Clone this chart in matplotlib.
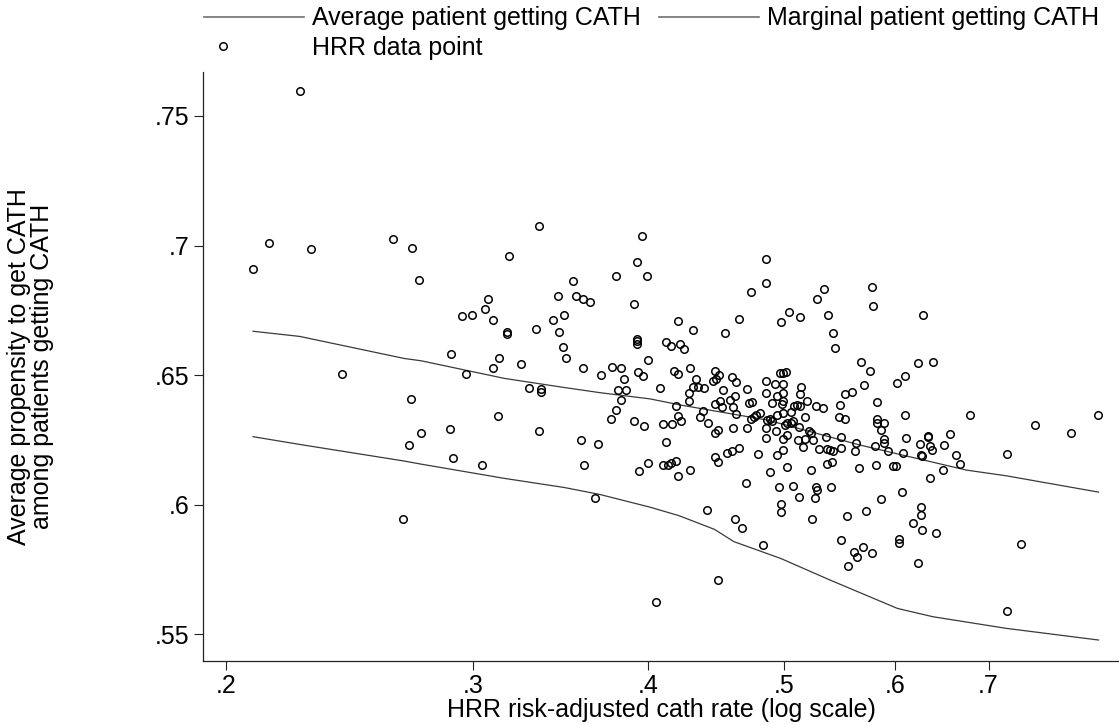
import matplotlib
matplotlib.use("Agg")
import matplotlib.pyplot as plt
from matplotlib.ticker import FixedLocator, FixedFormatter, NullLocator
from matplotlib.legend_handler import HandlerLine2D

plt.rcParams['font.family'] = ['Liberation Sans', 'DejaVu Sans']

# HRR risk-adjusted cath rate / average propensity
hrr_rate = [
    .2258, .2145, .2092, .2300, .2632, .2713, .2745, .3186, .3345, .3961,
    .3931, .3794, .3991, .3539, .3452, .3556, .3596, .3640, .3911, .3076,
    .2949, .2994, .3063, .3103, .3176, .3176, .3326, .3423, .3485, .3456,
    .3481, .3928, .3928, .3928, .2893, .3132, .3497,
    .3249, .3103, .2965, .2420, .3596, .3706, .3768, .3827, .3846, .3933,
    .3965, .4004, .3289, .3354, .3354, .3811, .3860, .3827, .3794, .3764,
    .3911, .3972, .2709, .3126, .2891, .2755, .2700, .2902, .3048, .3346,
    .3583, .3685, .3601, .3939, .4004, .3669, .2677,
    .4857, .4857, .4742, .4202, .4311, .4539, .4644, .4975, .5041, .5133,
    .5284, .5344, .5375, .5424, .5438, .5785, .5789, .6290, .6229, .6387,
    .5675, .5759, .5709, .6024, .6099, .5597, .5533, .5487, .5828, .5473,
    .5533, .6106, .5828, .5828, .5899, .5866, .5899, .5899, .5938, .5808,
    .5817, .5987, .6011, .6116, .6080, .6259, .6336, .6340, .6356, .6384,
    .6266, .6270, .6502, .6566, .6634, .6678, .6495, .6359, .6792, .7214,
    .7549, .8021, .8377, .6076, .5863, .6263, .6263, .6185, .6277, .6419,
    .6239, .7385, .7214, .6042, .6042, .5728, .5547, .5492, .5612, .5640,
    .5693, .5777, .5557, .5237, .5401, .5269, .5283, .5263, .5127, .5077,
    .4961, .4975, .4975, .4830, .4614, .4670, .4408, .4486, .4699, .4885,
    .5025, .5226, .5661, .4791, .4947, .4997, .4855, .4997, .4938, .5031,
    .5117, .5162, .5179, .5245, .5228, .5299, .5363, .5372, .5395, .5421,
    .5497, .5497, .5621, .5630, .5415, .5366, .5125, .5216, .5336, .5274,
    .5174, .5133, .5111, .5088, .5063, .5196, .5136, .5147, .5031, .5059,
    .5078, .5011, .4997, .4989, .4994, .4997, .4997, .4947, .4903, .4855,
    .4855, .4925, .4967, .4993, .5021, .4947, .4892, .4863, .4906, .4855,
    .4808, .4780, .4759, .4742, .4707, .4725, .4744, .4707, .4598, .4644,
    .4592, .4556, .4486, .4467, .4467, .4486, .4416, .4356, .4379, .4467,
    .4503, .4515, .4574, .4598, .4626, .4528, .4612, .4592, .4626, .4455,
    .4474, .4467, .4497, .4344, .4387, .4281, .4281, .4326, .4306, .4191,
    .4205, .4226, .4283, .4205, .4173, .4079, .4121, .4158, .4215, .4247,
    .4101, .4160, .4121, .4101, .4135, .4153, .4186, .4205, .4290, .4053,
]
hrr_propensity = [
    .7595, .7008, .6909, .6988, .7027, .6991, .6868, .6959, .7076, .7035,
    .6938, .6883, .6883, .6862, .6804, .6804, .6793, .6782, .6773, .6795,
    .6727, .6733, .6754, .6711, .6666, .6658, .6678, .6713, .6731, .6668,
    .6607, .6641, .6630, .6618, .6582, .6567, .6564,
    .6541, .6526, .6503, .6503, .6528, .6500, .6531, .6527, .6486, .6510,
    .6497, .6558, .6450, .6446, .6433, .6443, .6441, .6405, .6366, .6329,
    .6322, .6302, .6409, .6343, .6291, .6275, .6228, .6180, .6153, .6285,
    .6249, .6232, .6153, .6131, .6159, .6027, .5943,
    .6949, .6857, .6820, .6708, .6672, .6661, .6716, .6703, .6745, .6725,
    .6792, .6831, .6732, .6661, .6603, .6841, .6766, .6732, .6545, .6551,
    .6551, .6515, .6461, .6469, .6497, .6436, .6426, .6386, .6394, .6339,
    .6329, .6345, .6329, .6316, .6313, .6289, .6252, .6239, .6205, .6226,
    .6151, .6149, .6149, .6257, .6200, .6232, .6264, .6262, .6225, .6210,
    .6191, .6189, .6228, .6272, .6191, .6155, .6133, .6101, .6345, .6196,
    .6306, .6277, .6345, .6049, .6021, .5989, .5960, .5930, .5901, .5889,
    .5773, .5849, .5588, .5866, .5850, .5975, .5956, .5862, .5818, .5798,
    .5837, .5814, .5762, .5943, .6069, .6069, .6056, .6024, .6028, .6071,
    .6069, .6002, .5970, .5844, .5943, .5910, .5979, .5708, .6082, .6127,
    .6146, .6133, .6140, .6197, .6191, .6210, .6257, .6254, .6282, .6269,
    .6250, .6224, .6253, .6248, .6276, .6216, .6260, .6215, .6212, .6206,
    .6219, .6262, .6206, .6238, .6164, .6155, .6300, .6284, .6371, .6379,
    .6339, .6381, .6384, .6381, .6359, .6401, .6425, .6453, .6313, .6316,
    .6322, .6307, .6355, .6387, .6400, .6432, .6464, .6419, .6393, .6432,
    .6477, .6467, .6507, .6509, .6513, .6345, .6329, .6326, .6323, .6296,
    .6355, .6345, .6339, .6329, .6445, .6393, .6395, .6296, .6296, .6219,
    .6206, .6200, .6288, .6278, .6185, .6163, .6313, .6339, .6361, .6387,
    .6400, .6375, .6403, .6376, .6349, .6442, .6419, .6491, .6474, .6477,
    .6486, .6516, .6499, .6455, .6451, .6432, .6400, .6485, .6455, .6381,
    .6342, .6323, .6527, .6504, .6516, .6449, .6626, .6611, .6620, .6601,
    .6311, .6310, .6240, .6153, .6153, .6162, .6168, .6110, .6133, .5622,
]

# fitted curves
avg_x = [.2091, .2258, .2680, .2756, .3160, .3485, .3696, .4013, .4222,
         .4868, .5664, .6750, .7207, .8386]
avg_y = [.6669, .6649, .6564, .6555, .6487, .6452, .6432, .6408, .6384,
         .6326, .6230, .6133, .6111, .6048]
marg_x = [.2091, .2258, .2680, .2756, .3160, .3485, .3696, .4013, .4210,
          .4463, .4606, .4975, .5398, .6027, .6387, .7207, .8386]
marg_y = [.6262, .6232, .6168, .6156, .6101, .6066, .6039, .5990, .5957,
          .5904, .5857, .5792, .5708, .5599, .5567, .5522, .5477]

x_ticks = [.2, .3, .4, .5, .6, .7]
x_labels = ['.2', '.3', '.4', '.5', '.6', '.7']
y_ticks = [.55, .6, .65, .7, .75]
y_labels = ['.55', '.6', '.65', '.7', '.75']


class LeftMarker(HandlerLine2D):
    # Stata puts the symbol near the left of the key
    def create_artists(self, legend, orig_handle, xdescent, ydescent,
                       width, height, fontsize, trans):
        arts = super().create_artists(legend, orig_handle, xdescent, ydescent,
                                      width, height, fontsize, trans)
        for a in arts:
            a.set_xdata([0.19 * width - xdescent])
        return arts


fs = 18
fig = plt.figure(figsize=(11.19, 7.25), dpi=100)
ax = fig.add_axes([203 / 1119, 1 - 661 / 725, 916 / 1119, 589.3 / 725])

l1, = ax.plot(avg_x, avg_y, color='#3a3a3a', lw=0.9)
l2, = ax.plot(marg_x, marg_y, color='#3a3a3a', lw=0.9)
pts, = ax.plot(hrr_rate, hrr_propensity, 'o', mfc='none', mec='black',
               ms=5.4, mew=1.1, linestyle='none')

ax.set_xscale('log')
ax.set_xlim(0.1926, 0.8673)
ax.set_ylim(0.5396, 0.7671)
ax.xaxis.set_major_locator(FixedLocator(x_ticks))
ax.xaxis.set_major_formatter(FixedFormatter(x_labels))
ax.xaxis.set_minor_locator(NullLocator())
ax.yaxis.set_major_locator(FixedLocator(y_ticks))
ax.yaxis.set_major_formatter(FixedFormatter(y_labels))

for s in ['top', 'right']:
    ax.spines[s].set_visible(False)
for s in ['left', 'bottom']:
    ax.spines[s].set_linewidth(0.9)
    ax.spines[s].set_color('#222222')
ax.tick_params(length=6.5, width=0.8, color='#222222', labelsize=fs, pad=3)

ax.set_xlabel('HRR risk-adjusted cath rate (log scale)', fontsize=fs, labelpad=0)
ax.set_ylabel('Average propensity to get CATH\namong patients getting CATH',
              fontsize=fs, linespacing=0.95)
ax.yaxis.set_label_coords(-0.163, 0.5)

leg = fig.legend([l1, pts, l2],
                 ['Average patient getting CATH', 'HRR data point',
                  'Marginal patient getting CATH'],
                 loc='upper left', bbox_to_anchor=(203 / 1119, 1 - 5 / 725),
                 ncol=2, frameon=False, fontsize=fs, handlelength=4.0,
                 handletextpad=0.3, columnspacing=0.75, labelspacing=0.22,
                 borderaxespad=0, borderpad=0.05,
                 handler_map={pts: LeftMarker(numpoints=1)})
for h in leg.get_lines():
    h.set_color('#707070')
    h.set_linewidth(1.2)

fig.savefig('out.png', dpi=100)
